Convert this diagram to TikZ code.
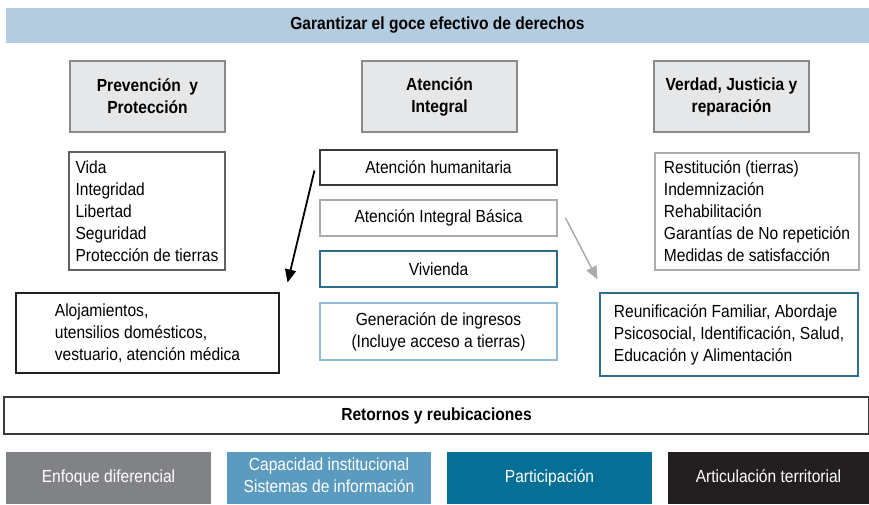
\documentclass[tikz,border=0pt]{standalone}
\usepackage{fontspec}
\setmainfont{Liberation Sans}[FakeStretch=0.89]
\usepackage{tikz}
\usetikzlibrary{arrows.meta,positioning,calc}

\definecolor{bannerblue}{HTML}{B4CCDF}
\definecolor{pillarfill}{HTML}{E6E7E8}
\definecolor{pillarline}{HTML}{8A8A8A}
\definecolor{darkline}{HTML}{3A3A3A}
\definecolor{lightline}{HTML}{ABABAB}
\definecolor{tealline}{HTML}{2E6E8E}
\definecolor{skyline}{HTML}{8FBBD6}
\definecolor{grayfill}{HTML}{808285}
\definecolor{skyfill}{HTML}{5B9BBF}
\definecolor{tealfill}{HTML}{056F96}
\definecolor{blackfill}{HTML}{231F20}

\begin{document}
\begin{tikzpicture}[
      x=1pt, y=-1pt,
      font=\fontsize{17.5}{22}\selectfont,
      block/.style={draw, align=center, inner sep=0pt, line width=1.1pt},
      banner/.style={block, draw=none, fill=bannerblue, font=\fontsize{17.5}{22}\selectfont\bfseries},
      pillar/.style={block, fill=pillarfill, draw=pillarline, line width=1.4pt,
        minimum width=155, minimum height=71, font=\fontsize{17.5}{22}\selectfont\bfseries},
      listbox/.style={block, align=left},
      service/.style={block, minimum width=237, minimum height=36},
      detail/.style={block, align=left},
      axis/.style={minimum height=52, inner sep=0pt, align=center, text=white,
        execute at begin node=\strut},
      arrow/.style={-{Triangle[length=13pt,width=11pt]}, line width=1.8pt}
    ]
    \useasboundingbox (0,0) rectangle (869,504);

    \node[banner, minimum width=863, minimum height=35] (goce) at (437.5,25.5) {Garantizar el goce efectivo de derechos};

    \node[pillar] (prev) at (147.5,96.5) {Prevención~~y\\Protección};
    \node[pillar] (aten) at (439.5,96.5) {Atención\\Integral};
    \node[pillar] (verdad) at (731.5,96.5) {Verdad, Justicia y\\reparación};

    \node[listbox, draw=darkline!80, minimum width=156, minimum height=118] (derechos) at (147,211)
      {Vida\\Integridad\\Libertad\\Seguridad\\Protección de tierras};
    \node[listbox, draw=lightline, minimum width=204, minimum height=117] (repara) at (757,211.5)
      {Restitución (tierras)\\Indemnización\\Rehabilitación\\Garantías de No repetición\\Medidas de satisfacción};

    \node[service, draw=darkline, minimum height=35] (hum) at (438.5,167.5) {Atención humanitaria};
    \node[service, draw=lightline] (basica) at (438.5,218) {Atención Integral Básica};
    \node[service, draw=tealline] (viv) at (438.5,269) {Vivienda};
    \node[service, draw=skyline, minimum height=57] (ingresos) at (438.5,331.5) {Generación de ingresos\\(Incluye acceso a tierras)};

    \node[detail, draw=blackfill, minimum width=263, minimum height=80] (aloj) at (147.5,333)
      {Alojamientos,\\utensilios domésticos,\\vestuario, atención médica};
    \node[detail, draw=tealline, minimum width=258, minimum height=83] (reun) at (729,334.5)
      {Reunificación Familiar, Abordaje\\Psicosocial, Identificación, Salud,\\Educación y Alimentación};

    \draw[arrow, black] ([shift={(-5,3)}]hum.west) -- ([shift={(8,-10)}]aloj.north east);
    \draw[arrow, lightline, line width=1.5pt] ([shift={(8,0)}]basica.east) -- ([shift={(-2,-13)}]reun.north west);

    \node[block, draw=darkline, line width=2pt, minimum width=865, minimum height=37,
      font=\fontsize{17.5}{22}\selectfont\bfseries] (retornos) at (436.5,415.5) {Retornos y reubicaciones};

    \node[axis, fill=grayfill, minimum width=205] (enfoque) at (108.5,478) {Enfoque diferencial};
    \node[axis, fill=skyfill, minimum width=204] (capacidad) at (329,478) {Capacidad institucional\\Sistemas de información};
    \node[axis, fill=tealfill, minimum width=205] (partic) at (549.5,478) {Participación};
    \node[axis, fill=blackfill, minimum width=201] (articul) at (768.5,478) {Articulación territorial};
  \end{tikzpicture}
\end{document}
